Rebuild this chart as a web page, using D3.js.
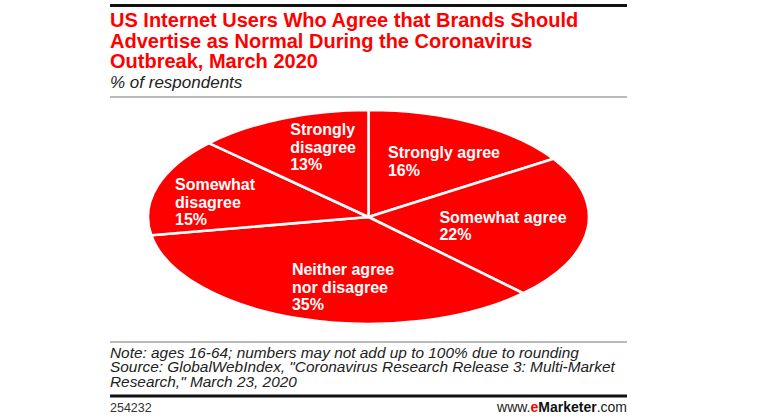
<!DOCTYPE html>
<html>
<head>
<meta charset="utf-8">
<script src="https://cdn.jsdelivr.net/npm/d3@7"></script>
<style>
  html, body { margin: 0; padding: 0; background: #fff; }
  svg { display: block; font-family: "Liberation Sans", Arial, sans-serif; }
</style>
</head>
<body>
<svg id="chart" width="768" height="419"></svg>
<script>
// ---- data ----
const categories = ["Strongly agree", "Somewhat agree", "Neither agree nor disagree", "Somewhat disagree", "Strongly disagree"];
const values = [16, 22, 35, 15, 13];
const labelLines = [["Strongly agree"], ["Somewhat agree"], ["Neither agree", "nor disagree"], ["Somewhat", "disagree"], ["Strongly", "disagree"]];
const titleLines = ["US Internet Users Who Agree that Brands Should", "Advertise as Normal During the Coronavirus", "Outbreak, March 2020"];
const subtitle = "% of respondents";
const noteLines = ["Note: ages 16-64; numbers may not add up to 100% due to rounding", "Source: GlobalWebIndex, \"Coronavirus Research Release 3: Multi-Market", "Research,\" March 23, 2020"];
const chartId = "254232";

// ---- layout ----
const W = 768, H = 419;
const left = 110, right = 627;
const red = "#fe0000";
const cx = 368.5, cy = 217, rx = 220.5, ry = 107;
// per-slice label placement (radius fraction, angle tweak in degrees)
const labelPlace = [
  { r: 0.625, da: 4.7 },
  { r: 0.615, da: 1.2 },
  { r: 0.664, da: -7.8 },
  { r: 0.71, da: -5.5 },
  { r: 0.686, da: 5.7 }
];

const svg = d3.select("#chart");

// top rule
svg.append("rect").attr("x", left).attr("y", 4).attr("width", right - left).attr("height", 3).attr("fill", "#111");

// title
const title = svg.append("text").attr("fill", red).attr("font-weight", "bold").attr("font-size", 20);
titleLines.forEach((t, i) => {
  title.append("tspan").attr("x", left).attr("y", 27 + i * 20.5).text(t);
});
svg.append("text").attr("x", left).attr("y", 88).attr("font-style", "italic").attr("font-size", 17)
  .attr("fill", "#222").text(subtitle);
svg.append("rect").attr("x", left).attr("y", 96.5).attr("width", right - left).attr("height", 1).attr("fill", "#777");

// pie
const pie = d3.pie().sort(null).value(d => d)(values);
const R = rx;
const arc = d3.arc().innerRadius(0).outerRadius(R);
const g = svg.append("g").attr("transform", `translate(${cx},${cy})`);
const pieG = g.append("g").attr("transform", `scale(1,${ry / rx})`);
pieG.selectAll("path").data(pie).join("path")
  .attr("d", arc)
  .attr("fill", red)
  .attr("stroke", "#fff")
  .attr("stroke-width", 2.6)
  .attr("stroke-linejoin", "round")
  .attr("vector-effect", "non-scaling-stroke");

// labels
const lh = 17.5;
pie.forEach((d, i) => {
  const p = labelPlace[i];
  const ang = (d.startAngle + d.endAngle) / 2 + p.da * Math.PI / 180;
  const x = Math.sin(ang) * rx * p.r;
  const y = -Math.cos(ang) * ry * p.r;
  const lines = labelLines[i].concat([values[i] + "%"]);
  const t = g.append("text").attr("fill", "#fff").attr("font-weight", "bold").attr("font-size", 16);
  lines.forEach((l, j) => t.append("tspan").text(l));
  const wmax = d3.max(t.selectAll("tspan").nodes(), n => n.getComputedTextLength());
  const blockH = (lines.length - 1) * lh + 11.5;
  const x0 = x - wmax / 2;
  const y0 = y - blockH / 2 + 11.5;
  t.selectAll("tspan").attr("x", x0).attr("y", (_, j) => y0 + j * lh);
});

// footer
svg.append("rect").attr("x", left).attr("y", 341.5).attr("width", right - left).attr("height", 1).attr("fill", "#777");
const note = svg.append("text").attr("font-style", "italic").attr("font-size", 15.4).attr("fill", "#222");
noteLines.forEach((t, i) => note.append("tspan").attr("x", left).attr("y", 357.5 + i * 14.8).text(t));
svg.append("rect").attr("x", left).attr("y", 394.5).attr("width", right - left).attr("height", 3).attr("fill", "#111");
svg.append("text").attr("x", left).attr("y", 412).attr("font-size", 12.5).attr("fill", "#333").text(chartId);
const brand = svg.append("text").attr("x", right).attr("y", 412).attr("text-anchor", "end").attr("font-size", 14).attr("fill", "#222");
brand.append("tspan").text("www.");
brand.append("tspan").attr("fill", red).attr("font-weight", "bold").text("e");
brand.append("tspan").attr("font-weight", "bold").attr("fill", "#111").text("Marketer");
brand.append("tspan").text(".com");
</script>
</body>
</html>
